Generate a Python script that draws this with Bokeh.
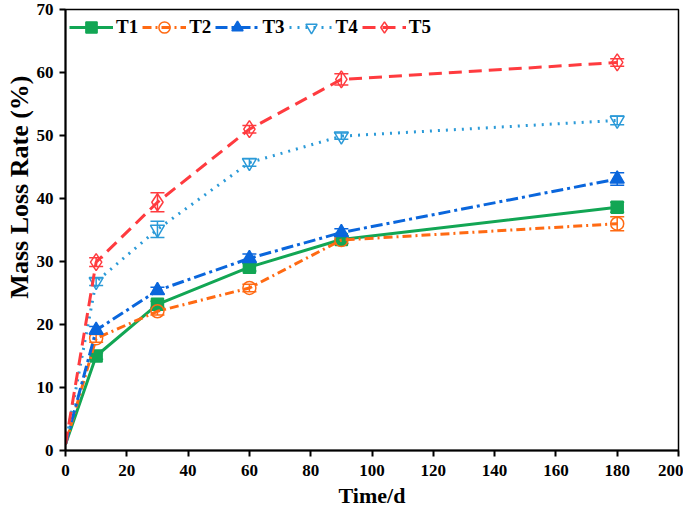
from bokeh.plotting import figure
from bokeh.models import ColumnDataSource, Whisker, TeeHead, Legend, LegendItem, FixedTicker, Range1d, Title
from bokeh.embed import file_html
from bokeh.resources import INLINE

days = [0, 10, 30, 60, 90, 180]
names = ["T1", "T2", "T3", "T4", "T5"]
t1 = [1.0, 15.0, 23.2, 29.1, 33.5, 38.6]
t2 = [1.0, 17.8, 22.1, 25.8, 33.4, 36.0]
t3 = [1.0, 19.1, 25.4, 30.5, 34.6, 43.1]
t4 = [1.0, 26.8, 35.1, 45.7, 49.9, 52.4]
t5 = [1.0, 29.9, 39.4, 51.0, 58.9, 61.6]
e1 = [0.0, 0.5, 0.5, 0.6, 0.6, 0.8]
e2 = [0.0, 0.6, 0.6, 0.6, 0.6, 1.1]
e3 = [0.0, 0.6, 0.5, 0.7, 0.6, 1.0]
e4 = [0.0, 0.6, 1.3, 0.6, 0.5, 0.7]
e5 = [0.0, 0.7, 1.5, 0.6, 0.9, 0.6]
x_ticks = [0, 20, 40, 60, 80, 100, 120, 140, 160, 180, 200]
y_ticks = [0, 10, 20, 30, 40, 50, 60, 70]
x_title = "Time/d"
y_title = "Mass Loss Rate (%)"

series = [t1, t2, t3, t4, t5]
errors = [e1, e2, e3, e4, e5]
colors = ["#12A654", "#FF6A13", "#0A66DC", "#2B9AD8", "#FF3B3F"]
dashes = ["solid", "9 4 2 4", "12 4 3 4", "2 6", "13 7"]
markers = ["square", "circle", "triangle", "inverted_triangle", "diamond"]
sizes = [12, 13, 14, 14, 17]
filled = [True, False, True, False, False]

FONT = "Liberation Serif"

p = figure(width=683, height=510, output_backend="svg", toolbar_location=None,
           x_range=Range1d(0, 200), y_range=Range1d(0, 70),
           min_border_left=65, min_border_right=5, min_border_top=9, min_border_bottom=40)
p.grid.visible = False
p.outline_line_color = "black"
p.outline_line_width = 1.5
p.background_fill_color = "white"
p.border_fill_color = "white"

for ax in (p.xaxis[0], p.yaxis[0]):
    ax.axis_line_width = 2
    ax.axis_line_color = "black"
    ax.major_tick_line_width = 2
    ax.major_tick_out = 6
    ax.major_tick_in = 0
    ax.minor_tick_line_color = None
    ax.major_label_text_font = FONT
    ax.major_label_text_font_style = "bold"
    ax.major_label_text_font_size = "17px"
    ax.major_label_text_color = "black"
    ax.axis_label_text_font = FONT
    ax.axis_label_text_font_style = "bold"
    ax.axis_label_text_font_size = "22px"
    ax.axis_label_text_color = "black"

p.xaxis.ticker = FixedTicker(ticks=x_ticks)
p.yaxis.ticker = FixedTicker(ticks=y_ticks)
p.xaxis.axis_label = x_title
p.xaxis.major_label_standoff = 8
p.xaxis.axis_label_standoff = 4
p.yaxis.major_label_standoff = 6

p.add_layout(Title(text=y_title, align="right", offset=66, standoff=0,
                   text_font=FONT, text_font_style="bold", text_font_size="26px",
                   text_color="black"), "left")

items = []
for name, vals, err, c, d, m, s, f in zip(names, series, errors, colors, dashes, markers, sizes, filled):
    src = ColumnDataSource(dict(x=days, y=vals))
    msrc = ColumnDataSource(dict(x=days[1:], y=vals[1:],
                                 lo=[v - e for v, e in zip(vals[1:], err[1:])],
                                 hi=[v + e for v, e in zip(vals[1:], err[1:])]))
    ln = p.line("x", "y", source=src, line_color=c, line_width=3, line_dash=d)
    w = Whisker(source=msrc, base="x", lower="lo", upper="hi", line_color=c, line_width=1.5,
                upper_head=TeeHead(size=14, line_color=c, line_width=1.5),
                lower_head=TeeHead(size=14, line_color=c, line_width=1.5))
    p.add_layout(w)
    mk = p.scatter("x", "y", source=msrc, marker=m, size=s, line_color=c, line_width=1.5,
                   fill_color=c if f else "white", fill_alpha=1.0 if f else 0.0)
    items.append(LegendItem(label=name, renderers=[ln, mk]))

legend = Legend(items=items, orientation="horizontal", location="top_left",
                label_text_font=FONT, label_text_font_style="bold", label_text_font_size="19px",
                label_text_color="black", glyph_width=44, glyph_height=28,
                label_standoff=3, spacing=4, padding=0, margin=4,
                border_line_color=None, background_fill_alpha=0.0)
p.add_layout(legend)

open("out.html", "w").write(file_html(p, INLINE))
